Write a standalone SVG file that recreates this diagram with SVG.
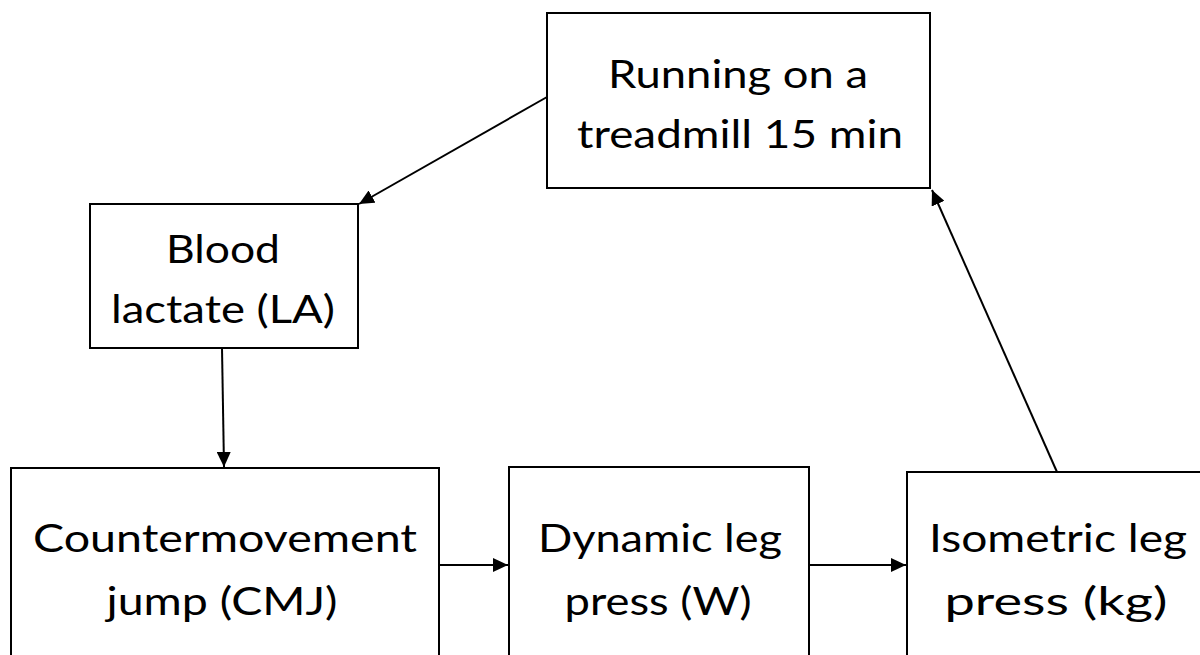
<svg xmlns="http://www.w3.org/2000/svg" width="1200" height="655" viewBox="0 0 1200 655">
<style>
.box{fill:#fff;stroke:#000;stroke-width:2}
.t{font-family:Lato,"Liberation Sans",sans-serif;font-size:38px;fill:#000;text-anchor:middle}
.c{stroke:#000;stroke-width:2;fill:none}
</style>
<defs>
<marker id="ah" markerUnits="userSpaceOnUse" markerWidth="16" markerHeight="14" refX="15" refY="7" orient="auto">
<path d="M0,0 L15,7 L0,14 z" fill="#000"/>
</marker>
</defs>
<rect width="1200" height="655" fill="#fff"/>
<g id="n-run">
<rect class="box" x="547" y="13" width="383" height="175"/>
<text class="t" x="738" y="88" textLength="260" lengthAdjust="spacingAndGlyphs">Running on a</text>
<text class="t" x="740" y="148" textLength="326" lengthAdjust="spacingAndGlyphs">treadmill 15 min</text>
</g>
<g id="n-blood">
<rect class="box" x="90" y="204" width="268" height="144"/>
<text class="t" x="223" y="263" textLength="114" lengthAdjust="spacingAndGlyphs">Blood</text>
<text class="t" x="223" y="323" textLength="224" lengthAdjust="spacingAndGlyphs">lactate (LA)</text>
</g>
<g id="n-cmj">
<rect class="box" x="11" y="468" width="428" height="200"/>
<text class="t" x="225" y="552" textLength="384" lengthAdjust="spacingAndGlyphs">Countermovement</text>
<text class="t" x="222" y="615" textLength="231" lengthAdjust="spacingAndGlyphs">jump (CMJ)</text>
</g>
<g id="n-dyn">
<rect class="box" x="509" y="467" width="300" height="200"/>
<text class="t" x="660" y="552" textLength="244" lengthAdjust="spacingAndGlyphs">Dynamic leg</text>
<text class="t" x="658" y="615" textLength="187" lengthAdjust="spacingAndGlyphs">press (W)</text>
</g>
<g id="n-iso">
<rect class="box" x="907" y="472" width="310" height="200"/>
<text class="t" x="1058" y="552" textLength="258" lengthAdjust="spacingAndGlyphs">Isometric leg</text>
<text class="t" x="1056" y="615" textLength="223" lengthAdjust="spacingAndGlyphs">press (kg)</text>
</g>
<g id="connectors">
<line class="c" x1="547" y1="97" x2="359" y2="204" marker-end="url(#ah)"/>
<line class="c" x1="222" y1="348" x2="224" y2="467" marker-end="url(#ah)"/>
<line class="c" x1="439" y1="565" x2="508" y2="565" marker-end="url(#ah)"/>
<line class="c" x1="809" y1="565" x2="906" y2="565" marker-end="url(#ah)"/>
<line class="c" x1="1057" y1="472" x2="932" y2="190" marker-end="url(#ah)"/>
</g>
</svg>
